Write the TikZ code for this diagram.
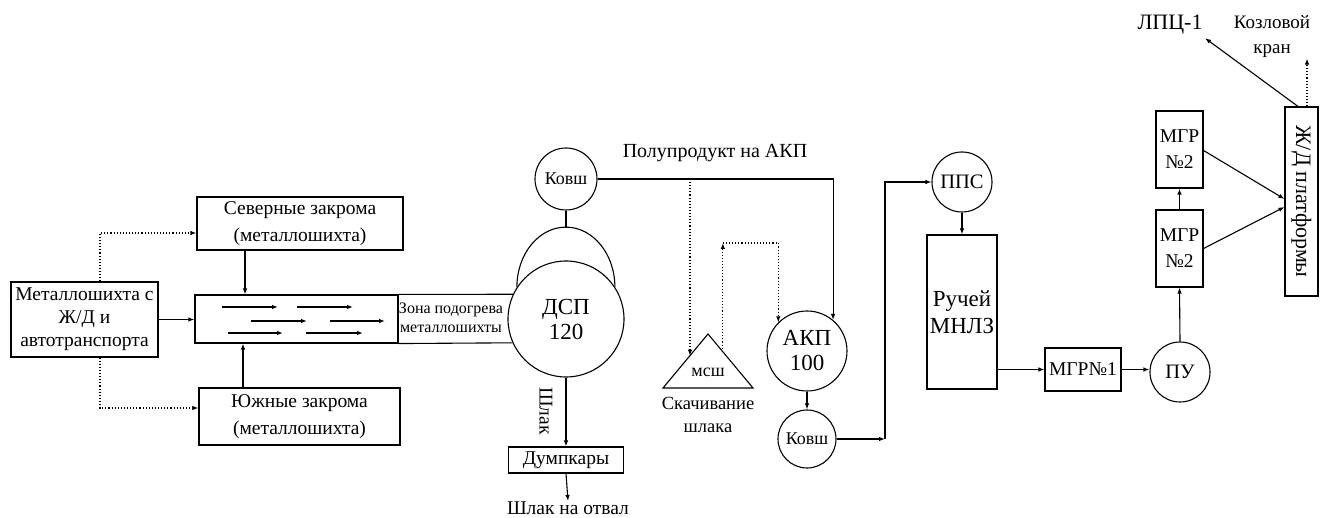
\documentclass[tikz,border=0pt]{standalone}
\usepackage{fontspec}
\setmainfont{Liberation Serif}
\usetikzlibrary{arrows.meta,positioning,calc}

\begin{document}
\begin{tikzpicture}[x=1pt,y=-1pt,line width=1.1pt,>={Latex[length=6pt,width=4.5pt]},
  font=\fontsize{19.5}{23}\selectfont,
  box/.style={draw,inner sep=0pt,align=center},
  round/.style={draw,circle,inner sep=0pt,align=center},
  big/.style={font=\fontsize{23}{27}\selectfont},
  small/.style={font=\fontsize{16}{20}\selectfont},
  dots/.style={->,dotted}]
  \useasboundingbox (0,0) rectangle (1323,518);
  % left part: scrap supply, bins and the conveyor
  \node[box,minimum width=147,minimum height=75] (src) at (84.5,319.5) {Металлошихта с\\Ж/Д и\\автотранспорта};
  \node[box,minimum width=206,minimum height=53] (north) at (300,223.5) {Северные закрома\\[4pt](металлошихта)};
  \node[box,minimum width=201,minimum height=57] (south) at (299.5,416.5) {Южные закрома\\[4pt](металлошихта)};
  \node[box,minimum width=203,minimum height=48] (conv) at (296.5,319) {};
  \foreach \a/\b/\y in {222/278/307,297/353/307,251/307/321,330/385/321,228/283/333,306/363/333}
    \draw[->] (\a,\y) -- (\b,\y);
  \draw[->] (src.east) -- (src.east -| conv.west);
  \draw[->] ([xshift=-55pt]north.south) -- ([xshift=-51.5pt]conv.north);
  \draw[->] ([xshift=-56.5pt]south.north) -- ([xshift=-53.5pt]conv.south);
  \draw[dots] ([xshift=15.5pt]src.north) |- ([yshift=-9.5pt]north.west);
  \draw[dots] ([xshift=15.5pt]src.south) |- ([yshift=8.5pt]south.west);
  % furnace with its ladle and the preheating zone
  \node[round,big,minimum size=116] (dsp) at (566,319) {ДСП\\[-2pt]120};
  \node[round,minimum size=62,font=\fontsize{18}{22}\selectfont] (kovsh) at (566,179) {Ковш};
  \coordinate (dometop) at (566,228);
  \draw (dsp.147.7) arc[start angle=180,end angle=0,x radius=49pt,y radius=60pt];
  \draw (kovsh.south) -- (dometop);
  \node[small,inner sep=0pt,align=center] (zone) at (451,318) {Зона подогрева\\[-1pt]металлошихты};
  \draw (conv.north east) -- (dsp.155.6);
  \draw (conv.south east) -- (dsp.204.4);
  % slag line
  \node[box,minimum width=115,minimum height=26] (dump) at (566,460) {Думпкары};
  \node[inner sep=0pt] (dumpout) at (568,508) {Шлак на отвал};
  \draw[->] (dsp.south) -- (dump.north);
  \node[rotate=-90,inner sep=0pt] (slag) at (546,411) {Шлак};
  \draw[->] (dump.south) -- (dumpout.north);
  % ladle furnace and slag skimming
  \node[round,big,minimum size=80] (akp) at (807,351) {АКП\\[-2pt]100};
  \node[inner sep=0pt,font=\fontsize{20}{24}\selectfont] (semi) at (715,153) {Полупродукт на АКП};
  \draw[->] (kovsh.east) -| (akp.50);
  \coordinate (split) at (690,179);
  \coordinate (mssa) at (663,388);
  \coordinate (mssb) at (753,388);
  \coordinate (mssc) at (708,334);
  \draw (mssa) -- (mssc) -- (mssb) -- cycle;
  \node[font=\fontsize{18}{20}\selectfont,inner sep=0pt] (mss) at (708,372) {мсш};
  \node[inner sep=0pt,align=center,font=\fontsize{18.5}{23}\selectfont] (skim) at (708,415) {Скачивание\\шлака};
  \coordinate (mssl) at ($(mssa)!0.6!(mssc)$);
  \coordinate (mssr) at ($(mssc)!0.33!(mssb)$);
  \coordinate (loop) at (mssr |- 0,243);
  \draw[dots] (split) -- (split |- mssl);
  \draw[dots] (mssr) -- (loop);
  \draw[dots] (loop) -| (akp.135);
  \node[round,minimum size=58,font=\fontsize{18}{22}\selectfont] (kovsh2) at (807,439) {Ковш};
  \draw[->] (akp.south) -- (kovsh2.north);
  % casting machine and the rolls
  \node[round,minimum size=60,font=\fontsize{20.5}{24}\selectfont] (pps) at (962,182) {ППС};
  \node[box,big,minimum width=70,minimum height=154] (strand) at (962,312) {Ручей\\МНЛЗ};
  \coordinate (riser) at (885,439);
  \draw[->] (kovsh2.east) -- (riser);
  \draw[->] (riser) |- (pps.west);
  \draw[->] (pps.south) -- (strand.north);
  \node[box,minimum width=76,minimum height=43] (mgr1) at (1083,369.5) {МГР№1};
  \node[round,minimum size=60,font=\fontsize{20.5}{24}\selectfont] (pu) at (1180,372) {ПУ};
  \node[box,minimum width=47,minimum height=77] (mgrb) at (1179.5,248.5) {МГР\\[3pt]№2};
  \node[box,minimum width=47,minimum height=77] (mgra) at (1179.5,149.5) {МГР\\[3pt]№2};
  \node[box,minimum width=33,minimum height=189,font=\fontsize{22}{25}\selectfont] (rail) at (1301.5,201.5) {\rotatebox{-90}{Ж/Д платформы}};
  \draw[->] (mgr1.west -| strand.east) -- (mgr1.west);
  \draw[->] (mgr1.east) -- (mgr1.east -| pu.west);
  \draw[->] (pu.north) -- (mgrb.south);
  \draw[->] (mgrb.north) -- (mgra.south);
  \draw[->] ([yshift=-1pt]mgra.east) -- ([yshift=2.5pt]rail.west);
  \draw[->] (mgrb.east) -- ([yshift=-5.5pt]rail.west);
  % outputs
  \node[inner sep=0pt,font=\fontsize{22}{24}\selectfont] (lpc) at (1170,25) {ЛПЦ-1};
  \node[inner sep=0pt,align=center,font=\fontsize{19}{25}\selectfont] (crane) at (1272,37) {Козловой\\кран};
  \draw[->] ([xshift=-3.5pt]rail.north) -- ([xshift=2pt,yshift=-3pt]lpc.south east);
  \draw[dots] ([xshift=5.5pt]rail.north) -- ([xshift=5.5pt]rail.north |- crane.south);
\end{tikzpicture}
\end{document}
